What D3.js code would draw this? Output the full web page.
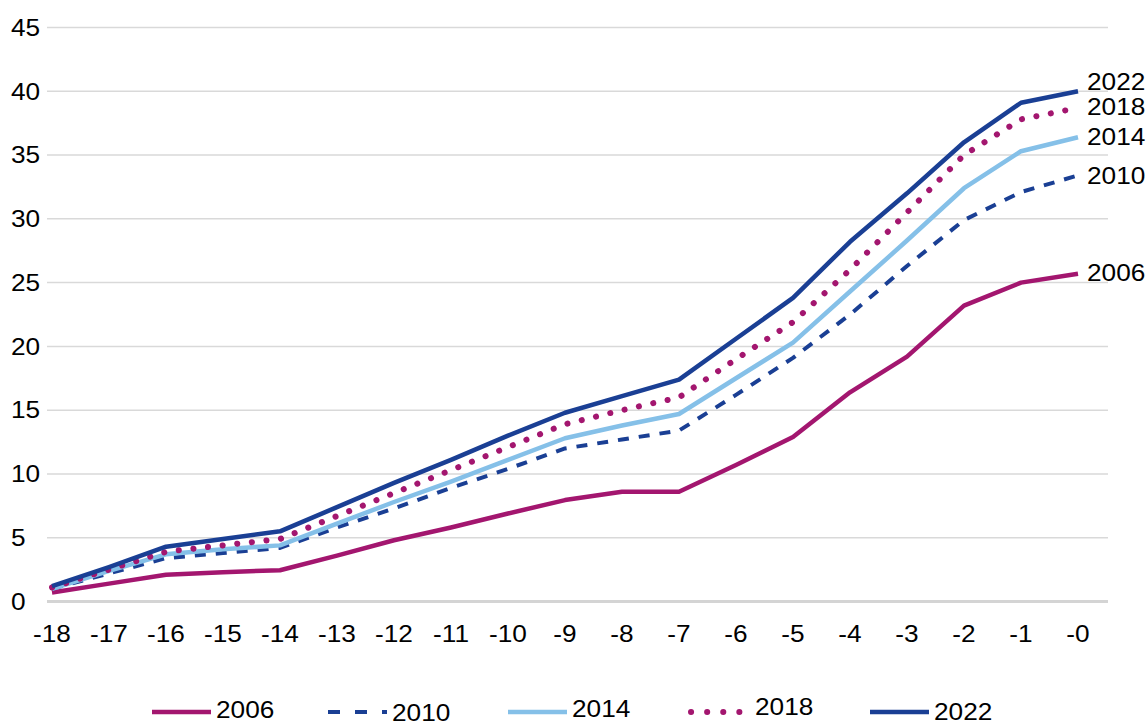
<!DOCTYPE html>
<html><head><meta charset="utf-8">
<script src="https://cdn.jsdelivr.net/npm/d3@7"></script>
<style>html,body{margin:0;padding:0;background:#fff;}svg{display:block;font-family:"Liberation Sans",Arial,sans-serif;}</style>
</head><body><svg id="c" width="1148" height="722"></svg>
<script>
const categories = ["-18","-17","-16","-15","-14","-13","-12","-11","-10","-9","-8","-7","-6","-5","-4","-3","-2","-1","-0"];
const s2006 = [0.7,1.4,2.1,2.3,2.45,3.6,4.8,5.8,6.9,7.95,8.6,8.6,10.7,12.9,16.4,19.2,23.2,25.0,25.7];
const s2010 = [1.0,2.2,3.4,3.8,4.2,5.8,7.3,8.9,10.4,12.0,12.7,13.4,16.2,19.1,22.5,26.3,29.9,32.1,33.4];
const s2014 = [1.0,2.4,3.7,4.1,4.4,6.1,7.8,9.4,11.1,12.8,13.8,14.7,17.5,20.3,24.3,28.3,32.4,35.3,36.4];
const s2018 = [1.1,2.5,3.9,4.4,4.9,6.7,8.5,10.3,12.1,13.9,15.0,16.0,19.0,21.9,26.0,30.5,35.0,37.8,38.7];
const s2022 = [1.2,2.7,4.3,4.9,5.5,7.4,9.3,11.1,13.0,14.8,16.1,17.4,20.6,23.8,28.2,32.0,36.0,39.1,40.0];
const seriesNames = ["2006","2010","2014","2018","2022"];
const yTicks = [0,5,10,15,20,25,30,35,40,45];

const series = [
  {name:"2006", values:s2006, color:"#a3166f", dash:null, ldash:null, cap:"butt", w:4.5},
  {name:"2010", values:s2010, color:"#1a3f94", dash:"11,10", ldash:"12,15", cap:"butt", w:4},
  {name:"2014", values:s2014, color:"#85c0e8", dash:null, ldash:null, cap:"butt", w:4.5},
  {name:"2018", values:s2018, color:"#a3166f", dash:"0.1,14.6", ldash:"0.1,16", cap:"round", w:6},
  {name:"2022", values:s2022, color:"#1a3f94", dash:null, ldash:null, cap:"butt", w:4.5}
];

const SX = 1.14; // horizontal text stretch
const FS = 23;
function txt(sel, xv, yv, str, anchor){
  return sel.append("text")
    .attr("transform", `translate(${xv},${yv}) scale(${SX},1)`)
    .attr("dy","0.36em").attr("font-size",FS).attr("fill","#000")
    .attr("text-anchor", anchor||"start").text(str);
}

const svg = d3.select("#c");
const x = d3.scalePoint().domain(categories).range([52,1078]);
const y = d3.scaleLinear().domain([0,45]).range([601.5,27.5]);

// gridlines
svg.append("g").selectAll("line").data(yTicks.filter(d=>d>0)).join("line")
  .attr("x1",47).attr("x2",1108).attr("y1",d=>y(d)).attr("y2",d=>y(d))
  .attr("stroke","#d9d9d9").attr("stroke-width",1.5);
svg.append("line").attr("x1",47).attr("x2",1108).attr("y1",y(0)).attr("y2",y(0))
  .attr("stroke","#d4d4d4").attr("stroke-width",3);

// y labels
const gy = svg.append("g");
yTicks.forEach(d=>txt(gy, 11, y(d), String(d)));

// x labels
const gx = svg.append("g");
categories.forEach(c=>txt(gx, x(c), 634, c, "middle"));

const line = d3.line().x((d,i)=>x(categories[i])).y(d=>y(d));
series.forEach(s=>{
  svg.append("path").datum(s.values).attr("d",line).attr("fill","none")
    .attr("stroke",s.color).attr("stroke-width",s.w)
    .attr("stroke-dasharray",s.dash).attr("stroke-linecap",s.cap).attr("stroke-linejoin","round");
});

// end labels
const endY = {"2006":273,"2010":176,"2014":137,"2018":107,"2022":82};
const ge = svg.append("g");
series.forEach(s=>txt(ge, 1087, endY[s.name], s.name));

// legend
const legX = [152,328,508,688,870];
const legTextY = {"2006":709.5,"2010":713,"2014":708.5,"2018":706.5,"2022":712};
series.forEach((s,i)=>{
  const g = svg.append("g");
  const x0 = s.name==="2018" ? 691 : legX[i];
  const x1 = s.name==="2018" ? 742 : legX[i]+59;
  g.append("line").attr("x1",x0).attr("x2",x1).attr("y1",712).attr("y2",712)
    .attr("stroke",s.color).attr("stroke-width",s.w)
    .attr("stroke-dasharray",s.ldash).attr("stroke-linecap",s.cap);
  txt(g, legX[i]+(s.name==="2018"?67:64), legTextY[s.name], s.name);
});
</script></body></html>
